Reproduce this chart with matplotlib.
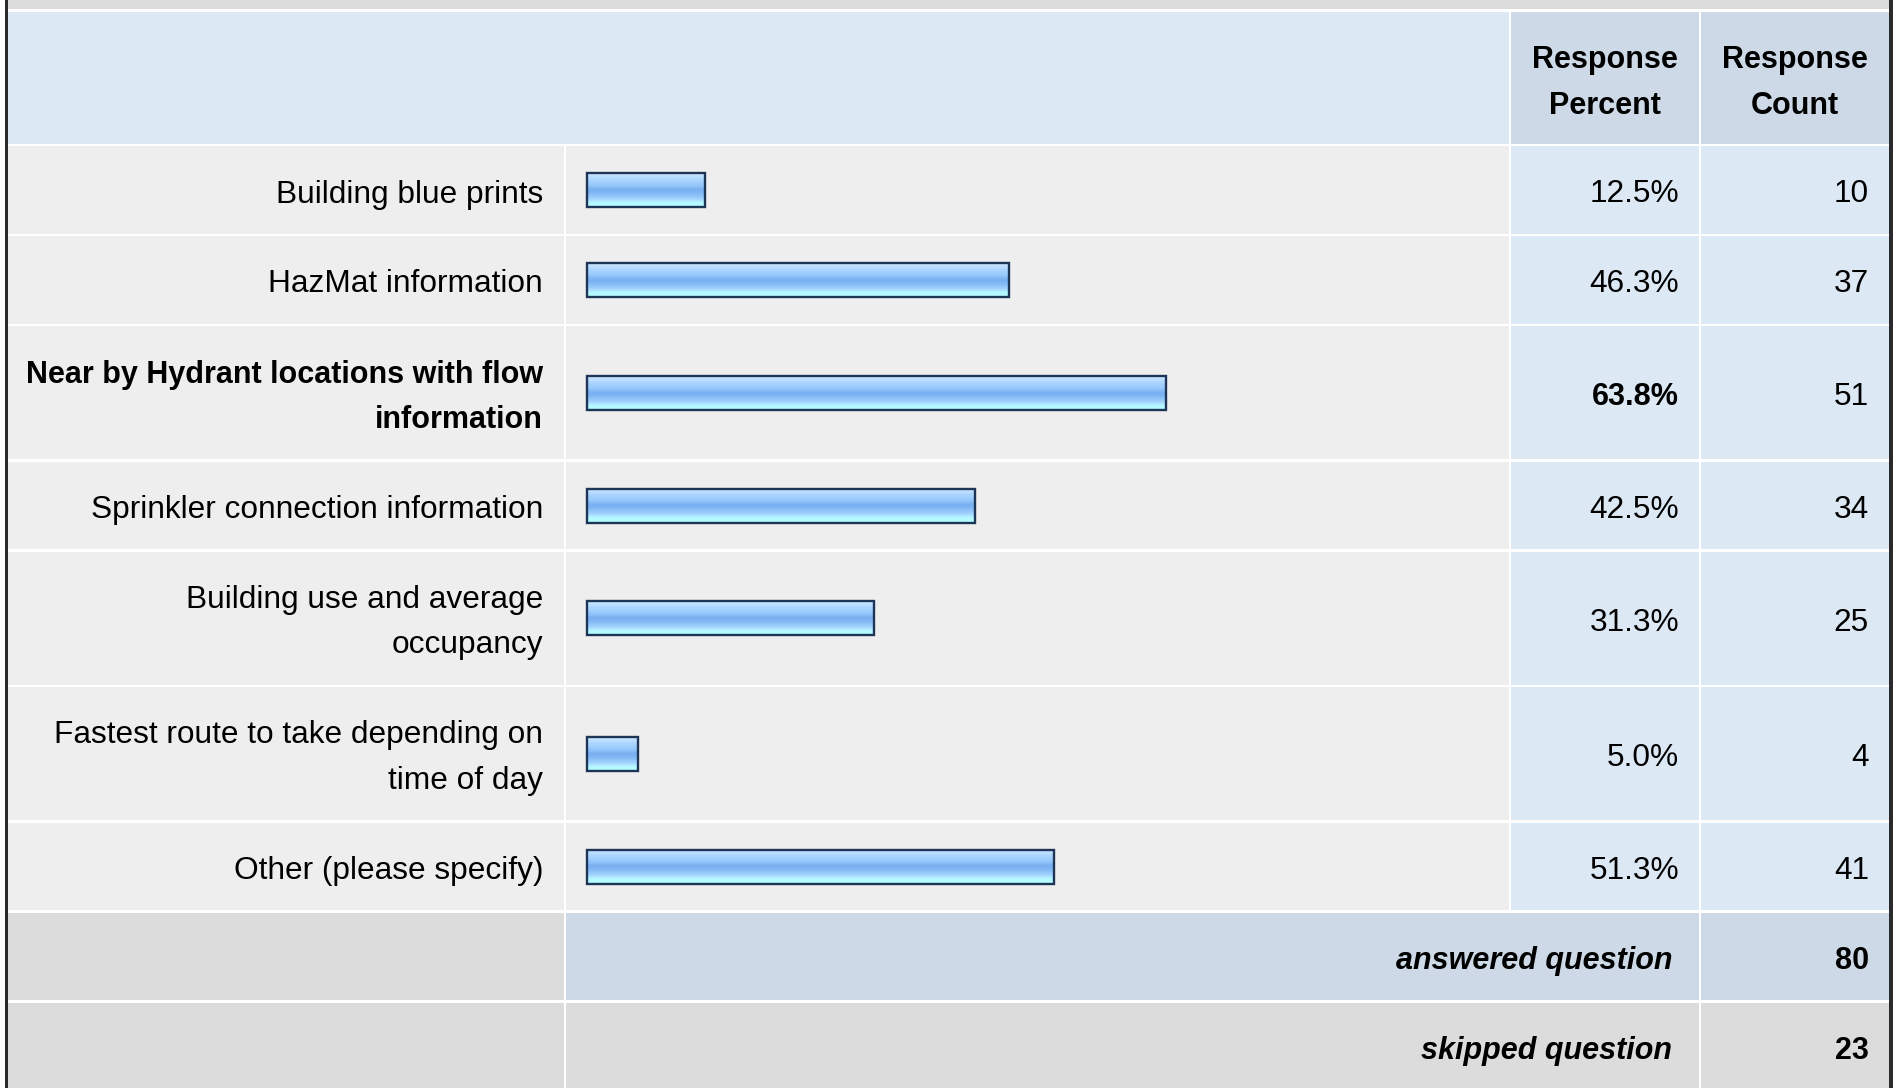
import numpy as np
import matplotlib.pyplot as plt
from matplotlib.patches import Rectangle
from matplotlib.colors import LinearSegmentedColormap

plt.rcParams["font.family"] = ["Liberation Sans", "DejaVu Sans"]

# Survey results
answers = [
    "Building blue prints",
    "HazMat information",
    "Near by Hydrant locations with flow\ninformation",
    "Sprinkler connection information",
    "Building use and average\noccupancy",
    "Fastest route to take depending on\ntime of day",
    "Other (please specify)",
]
percents = [12.5, 46.3, 63.8, 42.5, 31.3, 5.0, 51.3]
counts = [10, 37, 51, 34, 25, 4, 41]
header_cols = ["Response\nPercent", "Response\nCount"]
footer_labels = ["answered question", "skipped question"]
footer_counts = [80, 23]

W, H = 1903, 1088
FS = 22.8
FS_BOLD = 22.0
DY = 4.5  # text baseline nudge

# Colours
BLUE_LIGHT = "#dde8f5"
BLUE_DARK = "#cdd9e6"
GRAY_ROW = "#eeeeee"
GRAY_FOOT = "#dcdcdc"
BORDER = "#2a2a2a"
BAR_EDGE = "#1d3557"
bar_cmap = LinearSegmentedColormap.from_list(
    "bar",
    [
        (0.0, "#d2eaff"),
        (0.18, "#acd6ff"),
        (0.35, "#98c8fa"),
        (0.5, "#76aef0"),
        (0.62, "#86bcf6"),
        (0.78, "#a6d6ff"),
        (0.86, "#b4f6ff"),
        (1.0, "#b6ffff"),
    ],
)

fig = plt.figure(figsize=(W / 100, H / 100), dpi=100)
fig.patch.set_facecolor("white")
ax = fig.add_axes([0, 0, 1, 1])
ax.axis("off")

# column edges in pixels
x_left, x_label, x_pct, x_cnt, x_right = 8, 565, 1510, 1700, 1889
header_top, header_bot = 12, 145
line_h = 45.5


def cell(x0, x1, y0, y1, color):
    ax.add_patch(Rectangle((x0 + 1.2, y0 + 1.2), x1 - x0 - 2.4, y1 - y0 - 2.4,
                           facecolor=color, edgecolor="none", zorder=1))


# top strip and outer borders
ax.add_patch(Rectangle((x_left, 0), x_right - x_left, 9, facecolor=GRAY_FOOT,
                       edgecolor="none"))
ax.add_patch(Rectangle((5, 0), 3, H, facecolor=BORDER, edgecolor="none", zorder=5))
ax.add_patch(Rectangle((x_right, 0), 4, H, facecolor=BORDER, edgecolor="none", zorder=5))

# header
cell(x_left - 1, x_pct, header_top - 1, header_bot, BLUE_LIGHT)
cell(x_pct, x_cnt, header_top - 1, header_bot, BLUE_DARK)
cell(x_cnt, x_right + 1, header_top - 1, header_bot, BLUE_DARK)
for (c0, c1), txt in zip([(x_pct, x_cnt), (x_cnt, x_right)], header_cols):
    yc = (header_top + header_bot) / 2 + DY
    lines = txt.split("\n")
    for k, ln in enumerate(lines):
        ax.text((c0 + c1) / 2, yc + (k - (len(lines) - 1) / 2) * line_h, ln,
                ha="center", va="center", fontsize=FS_BOLD, fontweight="bold",
                zorder=3)

# data rows
best = int(np.argmax(percents))
y = header_bot
centers = []
for i, (lab, p, c) in enumerate(zip(answers, percents, counts)):
    lines = lab.split("\n")
    h = 44.5 + line_h * len(lines)
    y0, y1 = y, y + h
    yc = (y0 + y1) / 2
    centers.append(yc)
    cell(x_left - 1, x_label, y0, y1, GRAY_ROW)
    cell(x_label, x_pct, y0, y1, GRAY_ROW)
    cell(x_pct, x_cnt, y0, y1, BLUE_LIGHT)
    cell(x_cnt, x_right + 1, y0, y1, BLUE_LIGHT)
    weight = "bold" if i == best else "normal"
    fs = FS_BOLD if i == best else FS
    for k, ln in enumerate(lines):
        ax.text(x_label - 22, yc + DY + (k - (len(lines) - 1) / 2) * line_h, ln,
                ha="right", va="center", fontsize=fs, fontweight=weight, zorder=3)
    ax.text(x_cnt - 21, yc + DY, f"{p:.1f}%", ha="right", va="center",
            fontsize=fs, fontweight=weight, zorder=3)
    ax.text(x_right - 20, yc + DY, f"{c}", ha="right", va="center", fontsize=FS,
            zorder=3)
    y = y1

# footer rows
foot_colors = [BLUE_DARK, GRAY_FOOT]
for lab, c, col in zip(footer_labels, footer_counts, foot_colors):
    y0, y1 = y, y + 90
    yc = (y0 + y1) / 2 + DY
    cell(x_left - 1, x_label, y0, y1, GRAY_FOOT)
    cell(x_label, x_cnt, y0, y1, col)
    cell(x_cnt, x_right + 1, y0, y1, col)
    ax.text(x_cnt - 28, yc, lab, ha="right", va="center", fontsize=FS_BOLD,
            fontweight="bold", fontstyle="italic", zorder=3)
    ax.text(x_right - 20, yc, f"{c}", ha="right", va="center", fontsize=FS_BOLD,
            fontweight="bold", zorder=3)
    y = y1

ax.set_xlim(0, W)
ax.set_ylim(H, 0)

# bars: separate axes, x in percent, y in the same pixel rows
bar_x0, px_per_pct, pad_px = 593, 8.98, 8
pad = pad_px / px_per_pct
axb = fig.add_axes([(bar_x0 - pad_px) / W, 0, (100 * px_per_pct + pad_px) / W, 1])
axb.axis("off")
bar_h = 34
lead = 6 / px_per_pct  # bars start a few pixels left of zero
bars = axb.barh(centers, [p + lead for p in percents], left=-lead, height=bar_h,
                facecolor="none", edgecolor=BAR_EDGE, linewidth=1.7, zorder=4)
grad = np.linspace(0, 1, 64).reshape(-1, 1)
for b in bars:
    x0, w = b.get_x(), b.get_width()
    yb = b.get_y()
    im = axb.imshow(grad, cmap=bar_cmap, aspect="auto", origin="upper",
                    extent=(x0, x0 + w, yb + bar_h, yb), zorder=3,
                    interpolation="bilinear")
    im.set_clip_path(b)
axb.set_xlim(-pad, 100)
axb.set_ylim(H, 0)

fig.savefig("out.png", dpi=100)
